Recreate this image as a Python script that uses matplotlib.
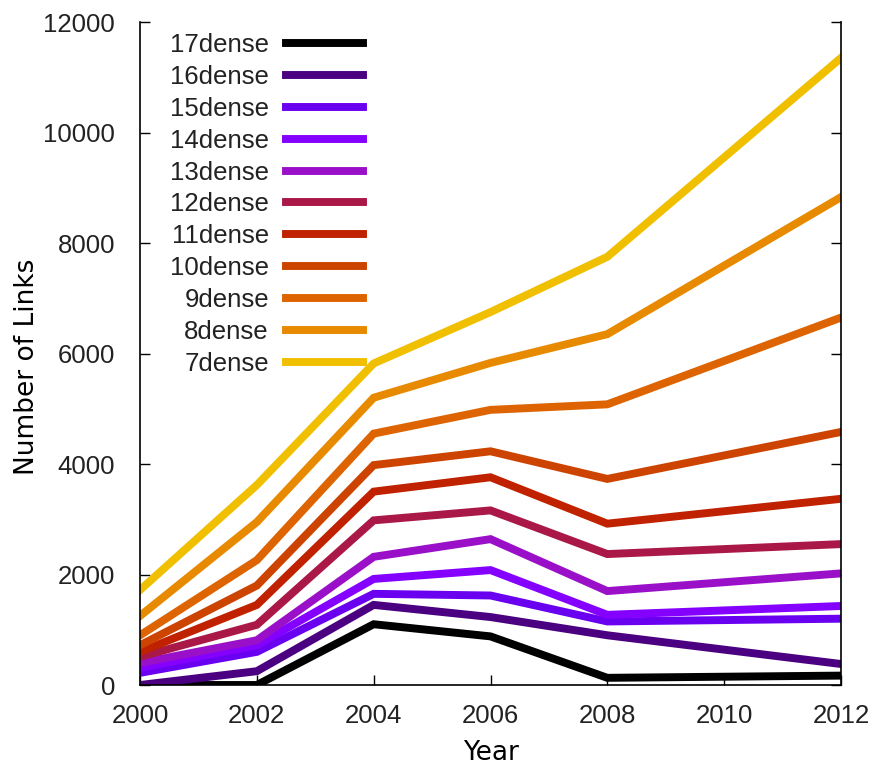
import matplotlib
matplotlib.use("Agg")
import matplotlib.pyplot as plt

years = [2000, 2002, 2004, 2006, 2008, 2012]

labels = ["17dense", "16dense", "15dense", "14dense", "13dense", "12dense",
          "11dense", "10dense", "9dense", "8dense", "7dense"]

d17 = [0, 0, 1100, 880, 130, 170]
d16 = [0, 250, 1450, 1230, 900, 380]
d15 = [220, 600, 1650, 1620, 1150, 1200]
d14 = [310, 720, 1920, 2080, 1270, 1430]
d13 = [400, 810, 2320, 2640, 1700, 2020]
d12 = [510, 1090, 2980, 3160, 2370, 2550]
d11 = [600, 1450, 3500, 3760, 2920, 3370]
d10 = [720, 1800, 3980, 4230, 3730, 4580]
d9 = [900, 2260, 4550, 4980, 5080, 6650]
d8 = [1250, 2950, 5200, 5830, 6350, 8830]
d7 = [1720, 3620, 5820, 6750, 7750, 11350]

series = [d17, d16, d15, d14, d13, d12, d11, d10, d9, d8, d7]
colors = ["#000000", "#4a0080", "#6a00f0", "#8400ff", "#9a10c8", "#aa1848",
          "#c02200", "#cc4400", "#dd6400", "#e88a00", "#f0c000"]

fig = plt.figure(figsize=(8.72, 7.64), dpi=100)
ax = fig.add_axes([0.1606, 0.1034, 0.8038, 0.8678])

for lab, vals, c in zip(labels, series, colors):
    ax.plot(years, vals, color=c, lw=5.7, label=lab, solid_joinstyle="miter")

ax.set_xlim(2000, 2012)
ax.set_ylim(0, 12000)
ax.set_xticks(range(2000, 2013, 2))
ax.set_yticks(range(0, 12001, 2000))

tick_font = {"family": "Liberation Sans", "size": 18.5, "color": "#222222"}
ax.set_xticklabels([str(t) for t in range(2000, 2013, 2)], fontdict=tick_font)
ax.set_yticklabels([str(t) for t in range(0, 12001, 2000)], fontdict=tick_font)
ax.tick_params(direction="in", length=7, width=1, top=False, right=True)
ax.tick_params(axis="x", pad=14)
ax.tick_params(axis="y", pad=18)

ax.spines["top"].set_visible(False)
for s in ["left", "bottom", "right"]:
    ax.spines[s].set_linewidth(1.2)

ax.set_xlabel("Year", fontsize=19, family="DejaVu Sans", labelpad=8)
ax.set_ylabel("Number of Links", fontsize=19, family="DejaVu Sans")
ax.yaxis.set_label_coords(-0.143, 0.48)

leg = ax.legend(loc="upper right", bbox_to_anchor=(0.318, 0.983), frameon=False,
                markerfirst=False, handlelength=3.0, handletextpad=0.66,
                labelspacing=0.305, borderpad=0, borderaxespad=0,
                prop={"family": "Liberation Sans", "size": 18.5})
for t in leg.get_texts():
    t.set_color("#222222")

fig.savefig("out.png", dpi=100)
